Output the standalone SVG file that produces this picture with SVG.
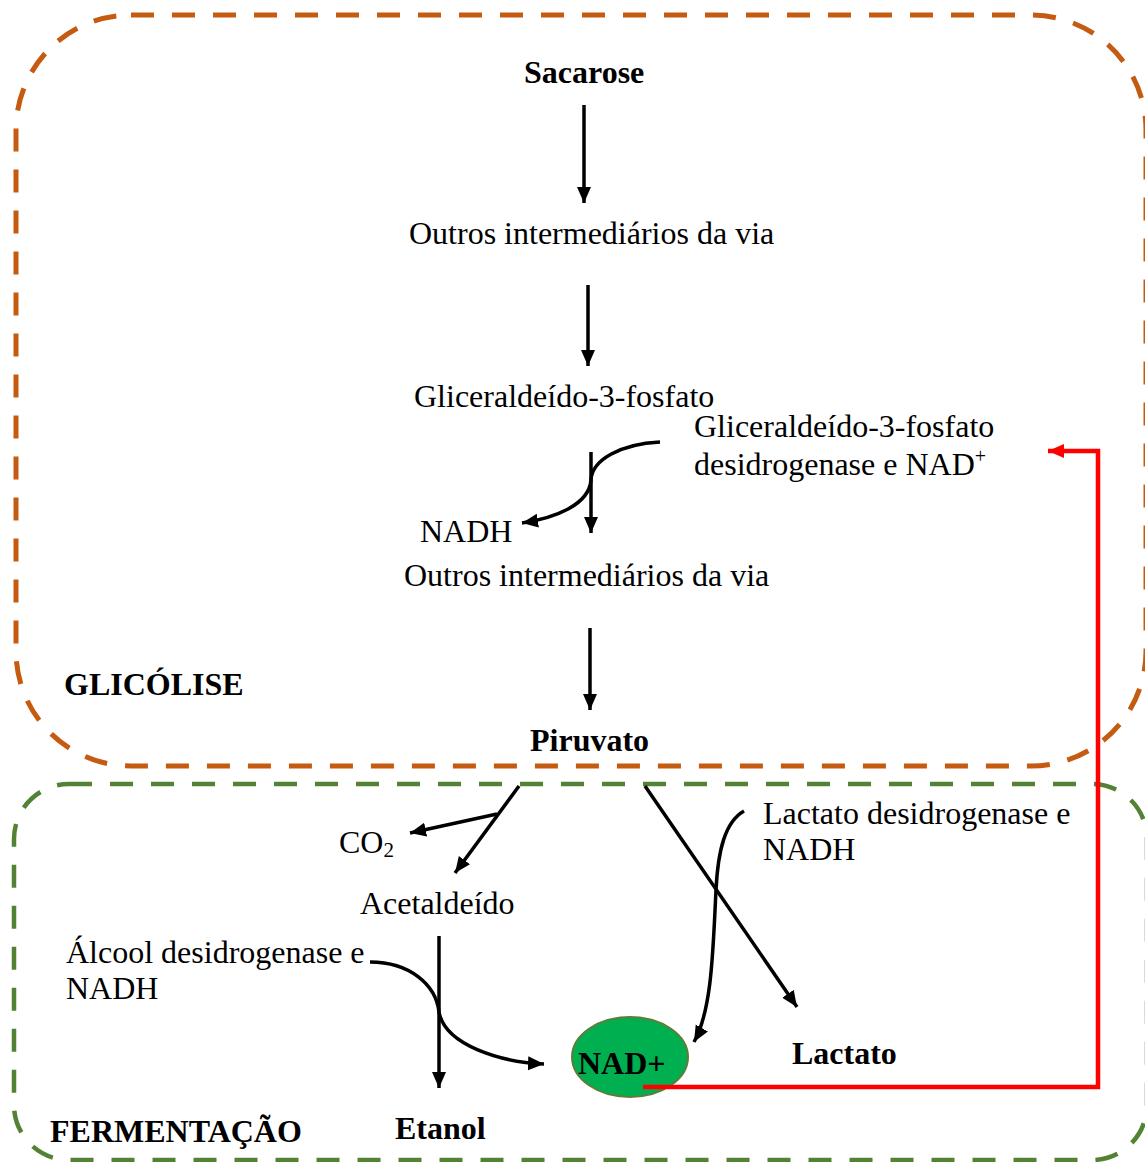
<svg xmlns="http://www.w3.org/2000/svg" width="1145" height="1162" viewBox="0 0 1145 1162">
<defs>
<style>
text{font-family:"Liberation Serif","Times New Roman",serif;font-size:32px;fill:#000}
.b{font-weight:bold}
.arr{fill:none;stroke:#000;stroke-width:3.5;marker-end:url(#ah)}
.red{fill:none;stroke:#FF0000;stroke-width:4.5;marker-end:url(#rh)}
</style>
<marker id="ah" markerUnits="userSpaceOnUse" markerWidth="18" markerHeight="16" refX="16" refY="7" orient="auto">
<path d="M0,0 L16,7 L0,14 Z" fill="#000"/>
</marker>
<marker id="rh" markerUnits="userSpaceOnUse" markerWidth="18" markerHeight="16" refX="16" refY="7" orient="auto">
<path d="M0,0 L16,7 L0,14 Z" fill="#FF0000"/>
</marker>
</defs>
<rect width="1145" height="1162" fill="#fff"/>
<g id="glicolise-box">
<rect x="16" y="15" width="1130" height="751" rx="115" ry="115" fill="none" stroke="#C55A11" stroke-width="5" stroke-dasharray="23 18"/>
</g>
<g id="fermentacao-box">
<rect x="14" y="784" width="1133" height="376" rx="55" ry="55" fill="none" stroke="#548235" stroke-width="4.5" stroke-dasharray="23 18"/>
</g>
<g id="nadplus">
<ellipse cx="630" cy="1057" rx="58" ry="40" fill="#00B050" stroke="#5E7D3A" stroke-width="2"/>
</g>
<g id="connectors">
<path class="arr" d="M584,105 V203"/>
<path class="arr" d="M588,285 V366"/>
<path class="arr" d="M591,452 V533"/>
<path class="arr" d="M660,442 C620,444 592,460 591,480 C589,505 555,518 522,523"/>
<path class="arr" d="M590,628 V710"/>
<path class="arr" d="M519,786 L455,873"/>
<path class="arr" d="M497,814 L410,833"/>
<path class="arr" d="M645,786 L797,1007"/>
<path class="arr" d="M744,811 C725,822 718,850 716,890 C713,950 712,1010 694,1042"/>
<path class="arr" d="M439,936 V1088"/>
<path class="arr" d="M370,962 C410,962 436,985 439,1012 C445,1045 500,1062 544,1064"/>
<path class="red" d="M643,1087 H1098 V451 H1048"/>
</g>
<g id="sacarose"><text class="b" x="524" y="83">Sacarose</text></g>
<g id="outros1"><text x="409" y="244">Outros intermediários da via</text></g>
<g id="g3p"><text x="414" y="407">Gliceraldeído-3-fosfato</text></g>
<g id="g3pdh"><text x="694" y="437">Gliceraldeído-3-fosfato</text><text x="694" y="475">desidrogenase e NAD<tspan dy="-12" font-size="20">+</tspan></text></g>
<g id="nadh1"><text x="420" y="542">NADH</text></g>
<g id="outros2"><text x="404" y="586">Outros intermediários da via</text></g>
<g id="glicolise-label"><text class="b" x="64" y="695">GLICÓLISE</text></g>
<g id="piruvato"><text class="b" x="530" y="751">Piruvato</text></g>
<g id="co2"><text x="339" y="853">CO<tspan dy="4" font-size="21">2</tspan></text></g>
<g id="acetaldeido"><text x="360" y="914">Acetaldeído</text></g>
<g id="adh"><text x="66" y="963">Álcool desidrogenase e</text><text x="66" y="999">NADH</text></g>
<g id="ldh"><text x="763" y="824">Lactato desidrogenase e</text><text x="763" y="860">NADH</text></g>
<g id="lactato"><text class="b" x="792" y="1064">Lactato</text></g>
<g id="nadplus-label"><text class="b" x="578" y="1074">NAD+</text></g>
<g id="etanol"><text class="b" x="395" y="1139">Etanol</text></g>
<g id="fermentacao-label"><text class="b" x="50" y="1142">FERMENTAÇÃO</text></g>
</svg>
